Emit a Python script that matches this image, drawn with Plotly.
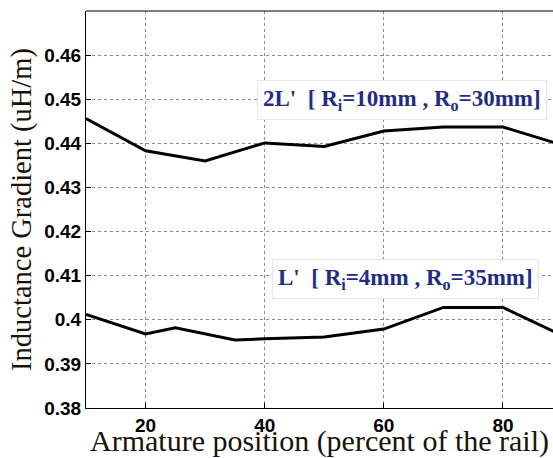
import plotly.graph_objects as go

# Armature position along the rail (percent)
pos_2l = [10, 20, 30, 40, 50, 60, 70, 80, 90]
grad_2l = [0.4456, 0.4383, 0.4360, 0.4401, 0.4393, 0.4428, 0.4437, 0.4437, 0.4396]

pos_l = [10, 20, 25, 35, 40, 50, 60, 70, 80, 90]
grad_l = [0.4012, 0.3968, 0.3982, 0.3954, 0.3957, 0.3961, 0.3979, 0.4028, 0.4028, 0.3964]

x_ticks = [20, 40, 60, 80]
y_ticks = [0.38, 0.39, 0.40, 0.41, 0.42, 0.43, 0.44, 0.45, 0.46]
y_tick_text = ["0.38", "0.39", "0.4", "0.41", "0.42", "0.43", "0.44", "0.45", "0.46"]

label_2l = "2L'\u00a0\u00a0[ R<sub>i</sub>=10mm , R<sub>o</sub>=30mm]"
label_l = "L'\u00a0\u00a0[ R<sub>i</sub>=4mm , R<sub>o</sub>=35mm]"

fig = go.Figure()
fig.add_trace(go.Scatter(x=pos_2l, y=grad_2l, mode="lines",
                         line=dict(color="black", width=3), showlegend=False))
fig.add_trace(go.Scatter(x=pos_l, y=grad_l, mode="lines",
                         line=dict(color="black", width=3), showlegend=False))

tick_font = dict(family="Liberation Sans, Arial", size=19, color="black", weight="bold")
serif = "Liberation Serif, Times New Roman"
label_font = dict(family=serif, size=23, color="#1f2d86", weight="bold")

fig.update_xaxes(
    range=[10, 88.4], tickvals=x_ticks, tickfont=tick_font,
    showline=True, linecolor="black", linewidth=1,
    ticks="inside", ticklen=5, tickcolor="black",
    showgrid=True, gridcolor="#8a8a8a", griddash="dot", gridwidth=1,
    zeroline=False, automargin=False,
    title=dict(text="Armature position (percent of the rail)",
               font=dict(family=serif, size=30, color="#1a1208"), standoff=5),
)
fig.update_yaxes(
    range=[0.38, 0.47], tickvals=y_ticks, ticktext=y_tick_text, tickfont=tick_font,
    showline=True, linecolor="black", linewidth=1,
    ticks="inside", ticklen=5, tickcolor="black",
    showgrid=True, gridcolor="#8a8a8a", griddash="dot", gridwidth=1,
    zeroline=False, automargin=False,
    title=dict(text="Inductance Gradient (uH/m)",
               font=dict(family=serif, size=28.5, color="#1a1208"), standoff=4),
)

# top frame line
fig.add_shape(type="line", xref="paper", yref="paper", x0=0, x1=1, y0=1, y1=1,
              line=dict(color="black", width=1))

fig.add_annotation(x=63.0, y=0.4499, text=label_2l, showarrow=False, font=label_font,
                   bgcolor="white", bordercolor="#e6e6e6", borderwidth=1, borderpad=5)
fig.add_annotation(x=63.6, y=0.4093, text=label_l, showarrow=False, font=label_font,
                   bgcolor="white", bordercolor="#e6e6e6", borderwidth=1, borderpad=5)

fig.update_layout(
    width=553, height=458,
    margin=dict(l=86, r=0, t=11, b=50),
    paper_bgcolor="white", plot_bgcolor="white",
)

fig.write_html("out.html")
